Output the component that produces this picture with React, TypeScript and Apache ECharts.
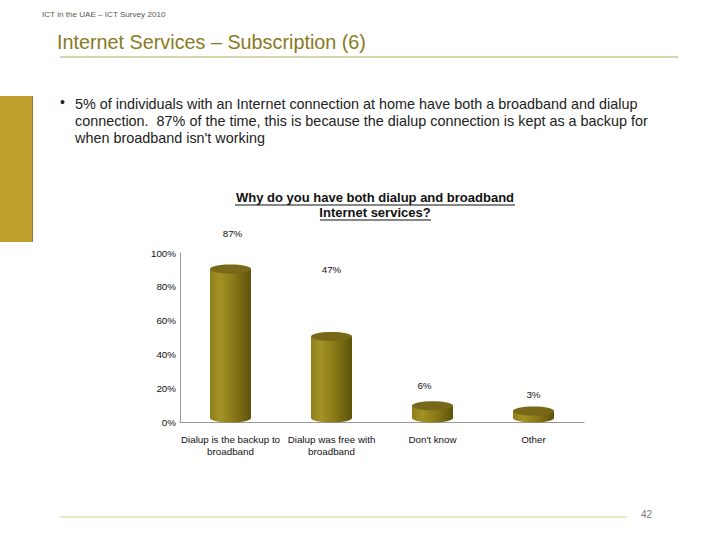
import React, { useEffect, useRef } from "react";
import * as echarts from "echarts";

const categories = ["Dialup is the backup to\nbroadband", "Dialup was free with\nbroadband", "Don't know", "Other"];
const values = [87, 47, 6, 3];
const yTicks = [0, 20, 40, 60, 80, 100];
// label offsets (style only), in px relative to the bar value position
const labelOffsets: [number, number][] = [[2, -41], [0, -73], [-8, -26], [0, -22]];

const FONT = "Liberation Sans, Arial, sans-serif";

export default function App() {
  const ref = useRef<HTMLDivElement>(null);
  useEffect(() => {
    document.body.style.margin = "0";
    const chart = echarts.init(ref.current!, null, { renderer: "svg" });
    const barW = 41;
    const option: any = {
      animation: false,
      backgroundColor: "#ffffff",
      textStyle: { fontFamily: FONT },
      grid: { left: 180, top: 253, right: 136, bottom: 118 },
      xAxis: {
        type: "category",
        data: categories,
        axisLine: { lineStyle: { color: "#9a9a9a", width: 1 } },
        axisTick: { show: false },
        axisLabel: { color: "#111", fontSize: 9.8, fontFamily: FONT, margin: 11, lineHeight: 12, interval: 0 },
      },
      yAxis: {
        type: "value",
        min: 0,
        max: 100,
        interval: 20,
        axisLine: { show: true, lineStyle: { color: "#9a9a9a", width: 1 } },
        axisTick: { show: false },
        splitLine: { show: false },
        axisLabel: {
          color: "#111",
          fontSize: 9.8,
          fontFamily: FONT,
          margin: 4,
          formatter: (v: number) => (yTicks.includes(v) ? v + "%" : ""),
        },
      },
      series: [
        {
          type: "custom",
          data: values.map((v, i) => [i, v]),
          encode: { x: 0, y: 1 },
          renderItem: (params: any, api: any) => {
            const idx = params.dataIndex;
            const top = api.coord([api.value(0), api.value(1)]);
            const base = api.coord([api.value(0), 0]);
            const cx = top[0];
            const shift = 6;
            const yTop = top[1] - shift;
            const yBot = base[1] - 4;
            const ry = 4.5;
            const x0 = cx - barW / 2;
            const grad = new echarts.graphic.LinearGradient(0, 0, 1, 0, [
              { offset: 0, color: "#8f7f1c" },
              { offset: 0.25, color: "#a39224" },
              { offset: 0.6, color: "#877716" },
              { offset: 1, color: "#5e520c" },
            ]);
            const off = labelOffsets[idx] || [0, -20];
            return {
              type: "group",
              children: [
                { type: "ellipse", shape: { cx, cy: yBot, rx: barW / 2, ry }, style: { fill: grad } },
                { type: "rect", shape: { x: x0, y: yTop, width: barW, height: Math.max(0, yBot - yTop) }, style: { fill: grad } },
                { type: "ellipse", shape: { cx, cy: yTop, rx: barW / 2, ry }, style: { fill: "#77681a" } },
                {
                  type: "text",
                  x: cx + off[0],
                  y: top[1] + off[1],
                  style: {
                    text: api.value(1) + "%",
                    fill: "#111",
                    font: "9.8px " + FONT,
                    align: "center",
                    verticalAlign: "middle",
                  },
                },
              ],
            };
          },
        },
      ],
      graphic: [
        { type: "text", x: 42, y: 10, style: { text: "ICT in the UAE – ICT Survey 2010", fill: "#555", font: "8.1px " + FONT } },
        { type: "text", x: 57, y: 32, style: { text: "Internet Services – Subscription (6)", fill: "#8a7a22", font: "19.8px " + FONT } },
        { type: "line", shape: { x1: 60, y1: 57, x2: 678, y2: 57 }, style: { stroke: "#b5a860", lineWidth: 1 } },
        { type: "rect", shape: { x: 0, y: 96, width: 32, height: 146 }, style: { fill: "#bf9f2e" } },
        { type: "rect", shape: { x: 32, y: 96, width: 1, height: 146 }, style: { fill: "#8a7a40" } },
        { type: "text", x: 60, y: 95, style: { text: "•", fill: "#222", font: "14px " + FONT } },
        {
          type: "text",
          x: 75,
          y: 95,
          style: {
            text: "5% of individuals with an Internet connection at home have both a broadband and dialup\nconnection.  87% of the time, this is because the dialup connection is kept as a backup for\nwhen broadband isn't working",
            fill: "#222",
            font: "14.4px " + FONT,
            lineHeight: 17,
          },
        },
        {
          type: "text",
          x: 375,
          y: 190,
          style: {
            text: "Why do you have both dialup and broadband\nInternet services?",
            fill: "#111",
            font: "bold 13px " + FONT,
            align: "center",
            lineHeight: 15,
          },
        },
        { type: "line", shape: { x1: 235, y1: 205, x2: 515, y2: 205 }, style: { stroke: "#111", lineWidth: 1 } },
        { type: "line", shape: { x1: 320, y1: 220, x2: 431, y2: 220 }, style: { stroke: "#111", lineWidth: 1 } },
        { type: "line", shape: { x1: 60, y1: 517, x2: 627, y2: 517 }, style: { stroke: "#d6cd8e", lineWidth: 1 } },
        { type: "text", x: 641, y: 509, style: { text: "42", fill: "#777", font: "10px " + FONT } },
      ],
    };
    chart.setOption(option);
    return () => chart.dispose();
  }, []);
  return <div ref={ref} style={{ width: 720, height: 540 }} />;
}
